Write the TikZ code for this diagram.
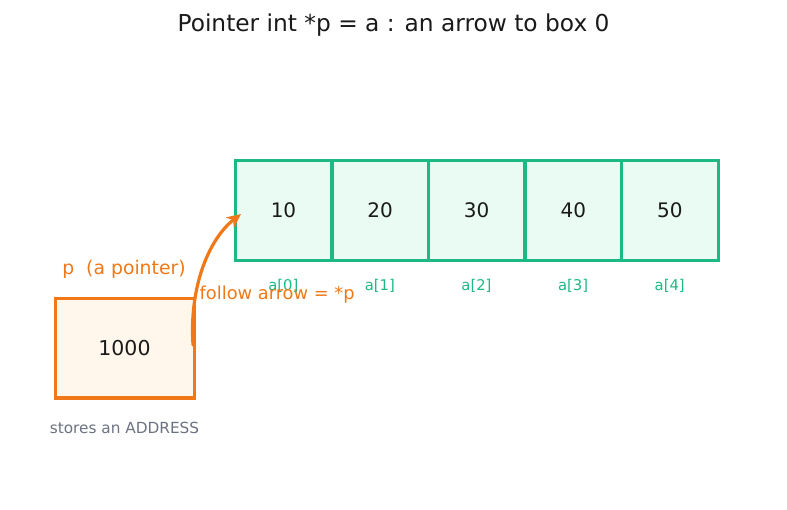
\documentclass[tikz,border=0pt]{standalone}
\usepackage{fontspec}
\setmainfont{DejaVu Sans}
\usetikzlibrary{arrows.meta}
\definecolor{grn}{HTML}{1DB884}
\definecolor{grnfill}{HTML}{EAFBF3}
\definecolor{org}{HTML}{F07818}
\definecolor{orgfill}{HTML}{FFF7EB}
\definecolor{gry}{HTML}{6B7280}
\definecolor{ink}{HTML}{1A1A1A}
\tikzset{
  cell/.style={fill=grnfill, minimum width=96.6pt, minimum height=99pt, inner sep=0pt, anchor=north west, font=\fontsize{20}{22}\selectfont, text=ink},
  cellborder/.style={draw=grn, line width=3pt},
  idx/.style={text=grn, font=\fontsize{14.8}{16}\selectfont},
  ptrbox/.style={draw=org, fill=orgfill, line width=3pt, minimum width=139pt, minimum height=99pt, inner sep=0pt, font=\fontsize{20.5}{22}\selectfont, text=ink},
  olabel/.style={text=org, font=\fontsize{17.8}{19}\selectfont},
}
\begin{document}
\begin{tikzpicture}[x=1pt,y=-1pt]
\useasboundingbox (0,0) rectangle (787,510);
\node[text=ink, font=\fontsize{23.3}{25}\selectfont] (title) at (393.5,25) {Pointer int *p = a : an arrow to box 0};
\foreach \i/\v in {0/10,1/20,2/30,3/40,4/50}{
  \node[cell] (c\i) at (235+96.6*\i,161) {\v};
  \node[idx] (l\i) at (283.3+96.6*\i,285.5) {a[\i]};
}
\foreach \i in {0,...,4}{
  \draw[cellborder] (c\i.north west) rectangle (c\i.south east);
}
\node[ptrbox] (p) at (124.5,348.5) {1000};
\node[olabel, font=\fontsize{18.8}{20}\selectfont] (pl) at (124,269.5) {p\ \ (a pointer)};
\node[text=gry, font=\fontsize{15.3}{17}\selectfont] (st) at (124.5,427.5) {stores an ADDRESS};
\node[olabel, anchor=west, inner sep=0pt] (fa) at (199.5,295) {follow arrow = *p};
\coordinate (s) at (193,345);
\coordinate (e) at (241,214);
\draw[org, line width=3.2pt, line cap=round, -{Stealth[length=14pt,width=13pt,inset=4pt]}] (s) .. controls (189,285) and (210,238) .. (e);
\end{tikzpicture}
\end{document}
